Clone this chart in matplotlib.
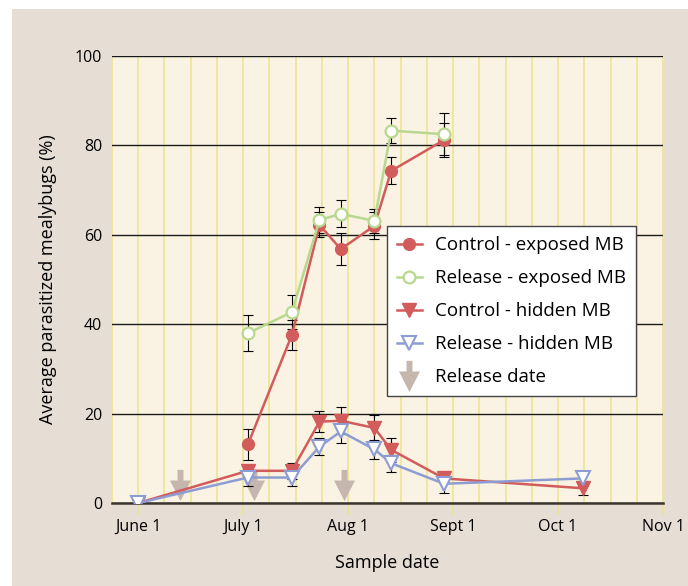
import matplotlib.pyplot as plt
from matplotlib.path import Path
from matplotlib.patches import Rectangle
from matplotlib.ticker import MultipleLocator

plt.rcParams['font.family'] = ['Open Sans', 'DejaVu Sans']

# x positions are months after June 1 (0 = June 1, 1 = July 1, ...)
month_labels = ["June 1", "July 1", "Aug 1", "Sept 1", "Oct 1", "Nov 1"]

exposed_x = [1.045, 1.464, 1.727, 1.93, 2.25, 2.41, 2.914]
control_exposed = [13.1, 37.6, 62.2, 56.8, 62.0, 74.3, 81.2]
control_exposed_err = [3.4, 3.4, 2.8, 3.5, 3.0, 3.0, 3.7]
release_exposed = [38.0, 42.7, 63.3, 64.7, 63.1, 83.3, 82.5]
release_exposed_err = [4.0, 3.8, 3.0, 3.0, 2.7, 2.8, 4.7]

hidden_x = [0.0, 1.045, 1.464, 1.727, 1.93, 2.25, 2.41, 2.914, 4.235]
control_hidden = [0.0, 7.2, 7.2, 18.2, 18.4, 16.8, 11.9, 5.5, 3.3]
control_hidden_err = [0.0, 1.3, 1.8, 2.4, 3.0, 2.9, 2.7, 1.0, 1.5]
release_hidden = [0.0, 5.7, 5.7, 12.6, 16.0, 12.0, 8.9, 4.3, 5.5]
release_hidden_err = [0.0, 1.9, 2.0, 1.9, 2.5, 2.2, 1.9, 2.0, 1.7]

release_dates = [0.40, 1.105, 1.965]

red = "#D25B5B"
green = "#B8D88F"
blue = "#8D9DD3"
arrow_col = "#C5B6AE"
yellow = "#ECE38C"

# down arrow marker
arrow = Path([(-0.19, 1), (0.19, 1), (0.19, 0.32), (0.67, 0.32), (0, -1),
              (-0.67, 0.32), (-0.19, 0.32), (-0.19, 1)],
             [Path.MOVETO] + [Path.LINETO] * 6 + [Path.CLOSEPOLY])

fig = plt.figure(figsize=(6.88, 5.86), dpi=100, facecolor="white")
fig.add_artist(Rectangle((12 / 688, 0), 1, 1 - 9 / 586, transform=fig.transFigure,
                         facecolor="#E6DDD5", edgecolor="none", zorder=-5))
ax = fig.add_axes([112 / 688, 1 - 503 / 586, 551 / 688, 447 / 586])
ax.set_facecolor("#FAF3E3")


def errbars(x, y, e):
    pts = [(a, b, c) for a, b, c in zip(x, y, e) if c > 0]
    xs, ys, es = zip(*pts)
    ax.errorbar(xs, ys, yerr=es, fmt="none", ecolor="black", elinewidth=0.8,
                capsize=3.3, capthick=0.8, zorder=3)


errbars(exposed_x, control_exposed, control_exposed_err)
errbars(exposed_x, release_exposed, release_exposed_err)
errbars(hidden_x, control_hidden, control_hidden_err)
errbars(hidden_x, release_hidden, release_hidden_err)

ax.plot(exposed_x, control_exposed, color=red, lw=1.8, marker="o", ms=8.5,
        mfc=red, mec=red, label="Control - exposed MB", zorder=4)
ax.plot(exposed_x, release_exposed, color=green, lw=1.8, marker="o", ms=8.5,
        mfc="white", mec=green, mew=1.6, label="Release - exposed MB", zorder=4)
ax.plot(hidden_x, control_hidden, color=red, lw=1.8, marker="v", ms=10,
        mfc=red, mec=red, label="Control - hidden MB", zorder=4)
ax.plot(hidden_x, release_hidden, color=blue, lw=1.8, marker="v", ms=10,
        mfc="white", mec=blue, mew=1.5, label="Release - hidden MB", zorder=4)
ax.plot(release_dates, [4.1] * len(release_dates), ls="none", marker=arrow, ms=22.5,
        color=arrow_col, mec="none", label="Release date", zorder=2.5)

ax.set_xlim(-0.25, 5)
ax.set_ylim(0, 100)
ax.set_xticks(range(len(month_labels)))
ax.set_xticklabels(month_labels)
ax.xaxis.set_minor_locator(MultipleLocator(0.25))
ax.set_yticks(range(0, 101, 20))

ax.set_axisbelow(True)
ax.grid(axis="x", which="both", color=yellow, lw=1.1)
ax.grid(axis="y", which="major", color="#1a1a1a", lw=1.0)
ax.tick_params(axis="x", which="major", length=8.6, width=1.1, color=yellow,
               pad=3, labelsize=11.5)
ax.tick_params(axis="x", which="minor", length=0)
ax.tick_params(axis="y", length=0, pad=7, labelsize=11.5)

for s in ["left", "top", "right"]:
    ax.spines[s].set_visible(False)
ax.spines["bottom"].set_color("#3b3530")
ax.spines["bottom"].set_linewidth(1.8)

ax.set_xlabel("Sample date", fontsize=13)
ax.set_ylabel("Average parasitized mealybugs (%)", fontsize=13)
ax.xaxis.set_label_coords(0.5, -0.115)
ax.yaxis.set_label_coords(-0.10, 0.5)

leg = ax.legend(loc="upper left", bbox_to_anchor=(0.499, 0.620), borderaxespad=0,
                fontsize=13.5, frameon=True, fancybox=False, framealpha=1,
                edgecolor="#444444", handlelength=1.3, handletextpad=0.7,
                labelspacing=0.8, borderpad=0.55, numpoints=1)
leg.get_frame().set_linewidth(1.0)
leg.set_zorder(10)

fig.savefig("out.png", dpi=100, facecolor=fig.get_facecolor())
